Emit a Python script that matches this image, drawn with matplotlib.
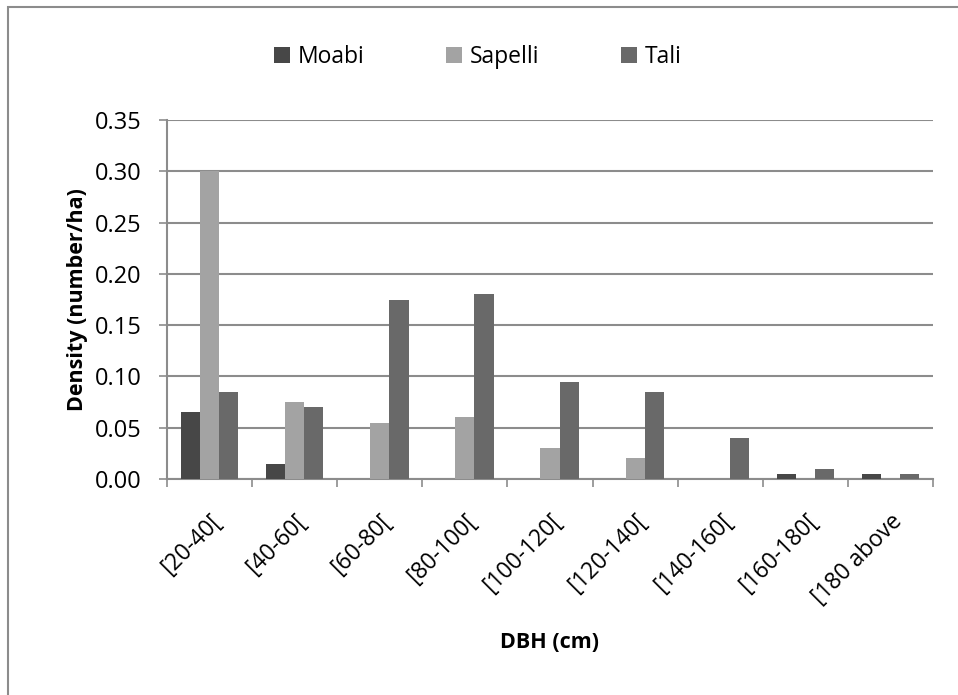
import numpy as np
import matplotlib
matplotlib.use("Agg")
import matplotlib.pyplot as plt
from matplotlib.patches import Rectangle

plt.rcParams['font.family'] = ['Open Sans', 'DejaVu Sans']

categories = ["[20-40[", "[40-60[", "[60-80[", "[80-100[", "[100-120[",
              "[120-140[", "[140-160[", "[160-180[", "[180 above"]
moabi = [0.065, 0.015, 0.0, 0.0, 0.0, 0.0, 0.0, 0.005, 0.005]
sapelli = [0.30, 0.075, 0.055, 0.06, 0.03, 0.02, 0.0, 0.0, 0.0]
tali = [0.085, 0.07, 0.175, 0.18, 0.095, 0.085, 0.04, 0.01, 0.005]

series = [("Moabi", moabi, "#474747"),
          ("Sapelli", sapelli, "#a3a3a3"),
          ("Tali", tali, "#696969")]

fig = plt.figure(figsize=(9.58, 6.95), dpi=100)
ax = fig.add_axes([167 / 958, 1 - 479 / 695, (933 - 167) / 958, (479 - 120) / 695])

# outer frame like the pasted excel chart
fig.patches.append(Rectangle((8 / 958, -0.1), 1.2, 1 - 7 / 695 + 0.1,
                             transform=fig.transFigure, fill=False,
                             edgecolor="#8c8c8c", linewidth=1.5))

x = np.arange(len(categories))
w = 0.225
for i, (name, vals, col) in enumerate(series):
    ax.bar(x + (i - 1) * w, vals, w, color=col, label=name, zorder=3)

ax.set_xlim(-0.5, len(categories) - 0.5)
ax.set_ylim(0, 0.35)
ax.set_yticks(np.arange(0, 0.351, 0.05))
ax.set_yticklabels(["%.2f" % v for v in np.arange(0, 0.351, 0.05)])
ax.yaxis.grid(True, color="#8c8c8c", linewidth=1.5, zorder=0)

ax.set_xticks(np.arange(-0.5, len(categories), 1.0), minor=False)
ax.set_xticklabels([])
ax.set_xticks(x, minor=True)
ax.set_xticklabels(categories, minor=True, rotation=45, ha="right",
                   va="top", rotation_mode="anchor", fontsize=16.5)
ax.tick_params(axis="x", which="minor", length=0, pad=22)
ax.tick_params(axis="x", which="major", length=6, width=1.2, color="#8c8c8c")
ax.tick_params(axis="y", length=6, width=1.2, color="#8c8c8c", labelsize=17, pad=12)

for s in ["top", "right"]:
    ax.spines[s].set_visible(False)
for s in ["left", "bottom"]:
    ax.spines[s].set_color("#8c8c8c")
    ax.spines[s].set_linewidth(1.5)

ax.set_ylabel("Density (number/ha)", fontsize=15.5, fontweight="bold", labelpad=5)
ax.set_xlabel("DBH (cm)", fontsize=15.5, fontweight="bold", labelpad=16)

fig.legend(loc="center", bbox_to_anchor=(478 / 958, 1 - 57 / 695), ncol=3,
           frameon=False, fontsize=16.5, handlelength=0.7, handleheight=0.7,
           handletextpad=0.35, columnspacing=3.55)

fig.savefig("out.png", dpi=100)
